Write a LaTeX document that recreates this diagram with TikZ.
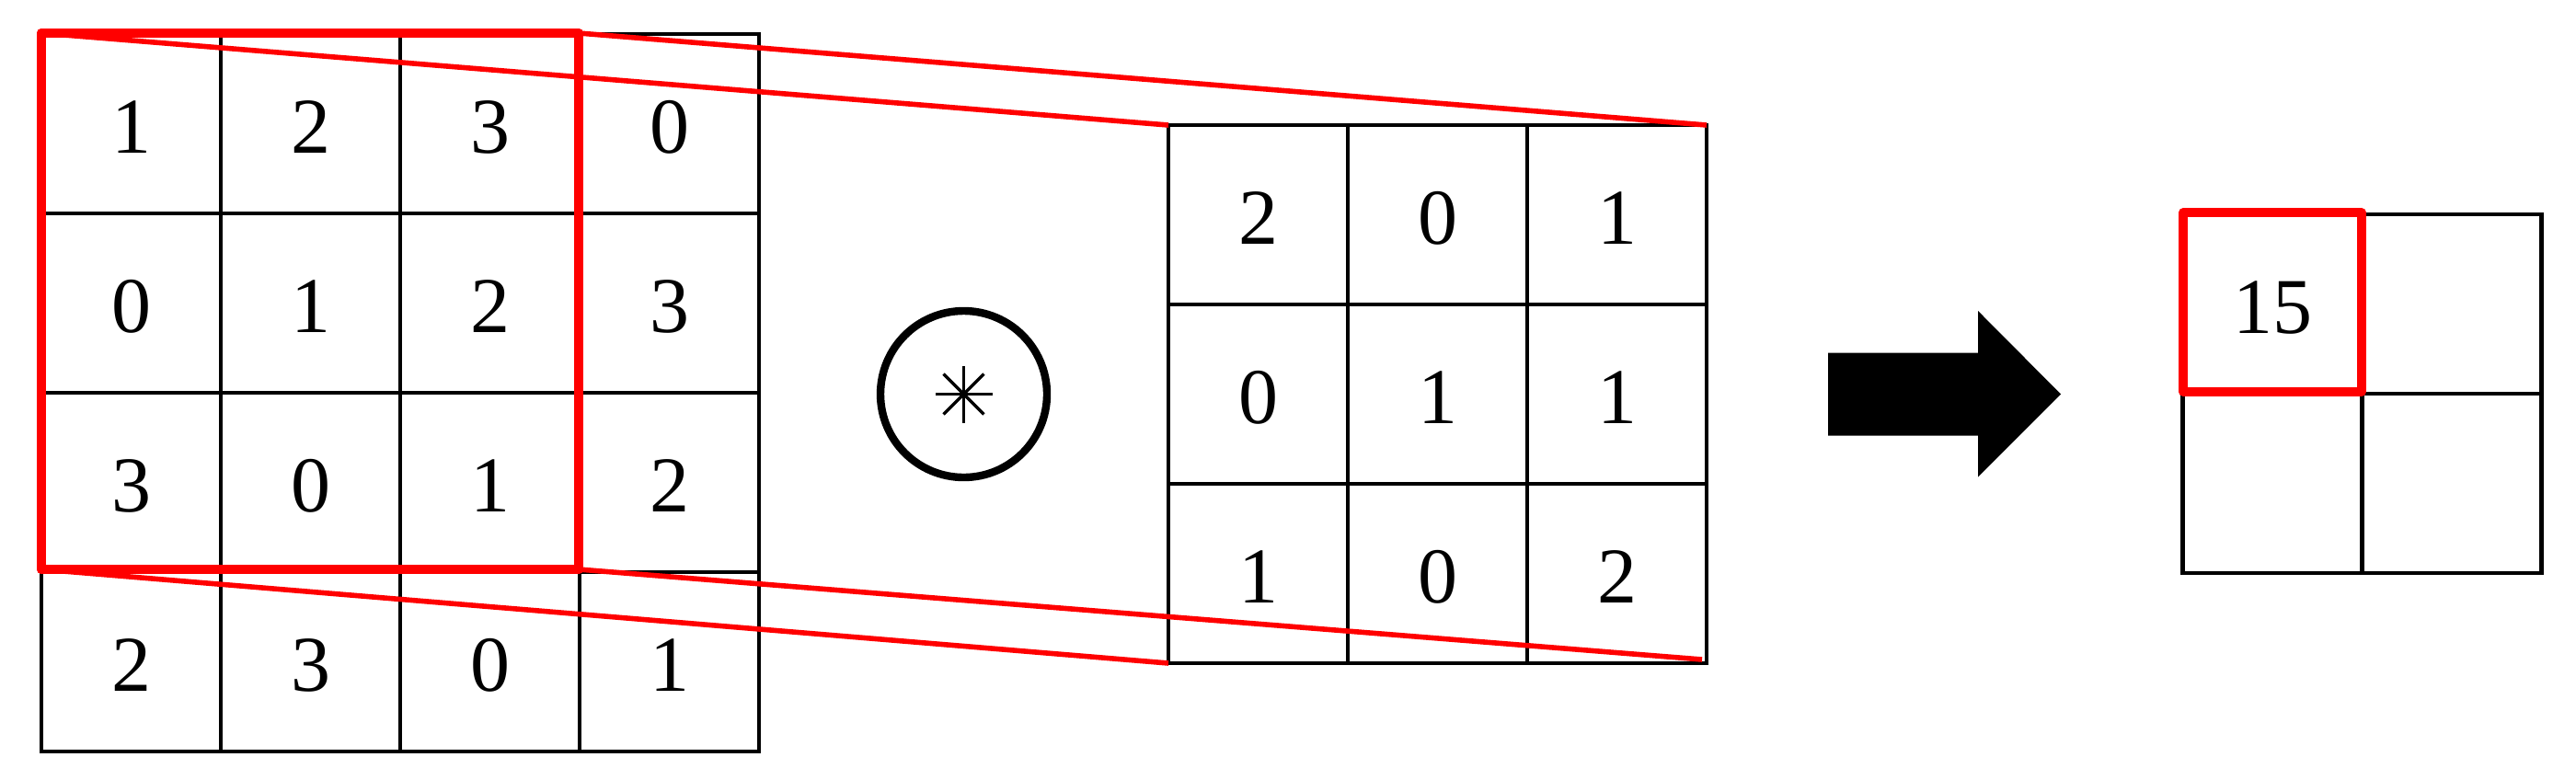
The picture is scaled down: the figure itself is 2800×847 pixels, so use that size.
\documentclass[tikz,border=0pt]{standalone}
\usepackage{fontspec}
\setmainfont{Liberation Serif}
\begin{document}
\begin{tikzpicture}[x=0.25pt,y=-0.25pt,
  cell/.style={draw=black, line width=1.15pt, minimum width=48.75pt, minimum height=48.75pt,
    inner sep=0pt, outer sep=0pt, anchor=north west, text height=16.2pt, text depth=0pt,
    font=\fontsize{21.5pt}{25pt}\selectfont},
  redbox/.style={draw=red, line width=2.5pt, line join=round, inner sep=0pt, outer sep=0pt},
  conn/.style={draw=red, line width=1.4pt},
  opcircle/.style={circle, draw=black, line width=2.1pt, minimum size=45.25pt, inner sep=0pt, outer sep=0pt},
  blockarrow/.style={fill=black}]
\useasboundingbox (0,0) rectangle (2800,847);
% input 4x4
\foreach \r/\vals in {1/{1,2,3,0},2/{0,1,2,3},3/{3,0,1,2},4/{2,3,0,1}}{
  \foreach \v [count=\c] in \vals {
    \node[cell] (in-\r-\c) at ({45+195*(\c-1)},{37+195*(\r-1)}) {\v};
  }
}
% kernel 3x3
\foreach \r/\vals in {1/{2,0,1},2/{0,1,1},3/{1,0,2}}{
  \foreach \v [count=\c] in \vals {
    \node[cell] (k-\r-\c) at ({1270+195*(\c-1)},{136+195*(\r-1)}) {\v};
  }
}
% output 2x2
\node[cell] (o-1-1) at (2372.5,233) {15};
\node[cell] (o-1-2) at (2567.5,233) {};
\node[cell] (o-2-1) at (2372.5,428) {};
\node[cell] (o-2-2) at (2567.5,428) {};
% convolution operator
\node[opcircle] (op) at (1047.5,428.5) {};
\foreach \a in {0,45,90,135}
  \draw[line width=0.85pt] (op.center) ++(\a:31) -- ++(\a+180:62);
% block arrow
\fill[blockarrow] (1987,383.5) -- (2150,383.5) -- (2150,338) -- (2240,428.5)
  -- (2150,518.5) -- (2150,473.5) -- (1987,473.5) -- cycle;
% window on input
\node[redbox, anchor=north west, minimum width=146pt, minimum height=145.75pt] (win) at (45,36) {};
% projection lines
\draw[conn] (win.north west) -- (k-1-1.north west);
\draw[conn] (win.north east) -- (k-1-3.north east);
\draw[conn] (win.south west) -- (k-3-1.south west);
\draw[conn] (win.south east) -- ([shift={(-5,-4)}]k-3-3.south east);
\draw[redbox] (win.north west) rectangle (win.south east);
% window on output
\node[redbox, minimum width=48.6pt, minimum height=48.6pt] (owin) at ([yshift=0.5pt]o-1-1.center) {};
\end{tikzpicture}
\end{document}
